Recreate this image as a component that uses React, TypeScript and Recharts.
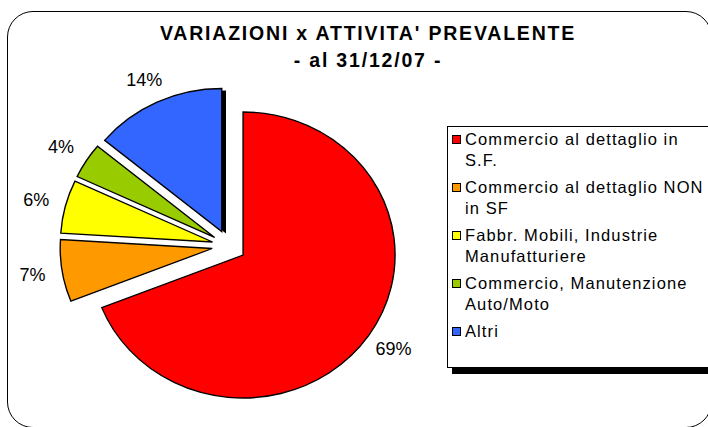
import { PieChart, Pie, Cell, Sector, Legend } from 'recharts'

// categories and shares (percent)
const categories = [
  'Commercio al dettaglio in S.F.',
  'Commercio al dettaglio NON in SF',
  'Fabbr. Mobili, Industrie Manufatturiere',
  'Commercio, Manutenzione Auto/Moto',
  'Altri',
]
const shares = [69, 7, 6, 4, 14]
const colors = ['#FF0000', '#FF9900', '#FFFF00', '#99CC00', '#3366FF']

const data = categories.map((name, i) => ({ name, value: shares[i] }))

const W = 708
const H = 427
const SX = 1.063 // pie is drawn slightly wider than tall
const EXPLODE = 16
const LABEL_RX = 182
const LABEL_RY = 168
const RAD = Math.PI / 180
const FONT = '"Liberation Sans", Arial, Helvetica, sans-serif'

function offsetOf(cx: number, cy: number, midAngle: number) {
  const m = -midAngle * RAD
  return { x: cx + EXPLODE * SX * Math.cos(m), y: cy + EXPLODE * Math.sin(m), m }
}

function ExplodedSlice(props: any) {
  const { cx, cy, midAngle, startAngle, endAngle, outerRadius, fill } = props
  const o = offsetOf(cx, cy, midAngle)
  return (
    <g transform={`translate(${o.x},${o.y}) scale(${SX},1)`}>
      {fill === colors[4] && (
        <Sector cx={4} cy={2} innerRadius={0} outerRadius={outerRadius} startAngle={startAngle} endAngle={endAngle} fill="#000" />
      )}
      <Sector
        cx={0}
        cy={0}
        innerRadius={0}
        outerRadius={outerRadius}
        startAngle={startAngle}
        endAngle={endAngle}
        fill={fill}
        stroke="#000"
        strokeWidth={1.3}
      />
    </g>
  )
}

function renderLabel(props: any) {
  const { cx, cy, midAngle, percent } = props
  const o = offsetOf(cx, cy, midAngle)
  const x = o.x + LABEL_RX * Math.cos(o.m)
  const y = o.y + LABEL_RY * Math.sin(o.m)
  return (
    <text x={x} y={y} textAnchor="middle" dominantBaseline="central" fill="#000" fontSize={18} fontFamily={FONT}>
      {Math.round(percent * 100)}%
    </text>
  )
}

function LegendBox({ payload }: any) {
  // keep the data order, not the alphabetical one
  const items = [...(payload || [])].sort(
    (a: any, b: any) => categories.indexOf(a.value) - categories.indexOf(b.value),
  )
  return (
    <div
      style={{
        width: 265,
        height: 242,
        boxSizing: 'border-box',
        border: '1px solid #000',
        boxShadow: '5px 6px 0 #000',
        background: '#fff',
        paddingTop: 2,
        fontFamily: FONT,
        fontSize: 16.5,
        letterSpacing: 1.1,
        lineHeight: '21px',
        color: '#000',
      }}
    >
      {items.map((entry: any, i: number) => (
        <div key={i} style={{ display: 'flex', alignItems: 'flex-start', marginBottom: 6 }}>
          <span
            style={{
              display: 'inline-block',
              width: 9,
              height: 9,
              marginTop: 6,
              marginLeft: 4,
              marginRight: 4,
              boxSizing: 'border-box',
              border: '1px solid #000',
              background: entry.color,
              flexShrink: 0,
            }}
          />
          <span style={{ width: 244 }}>{entry.value}</span>
        </div>
      ))}
    </div>
  )
}

export default function App() {
  return (
    <div style={{ position: 'relative', width: W, height: H, overflow: 'hidden', background: '#fff' }}>
      <style>{'body{margin:0}'}</style>
      <div
        style={{
          position: 'absolute',
          left: 7,
          top: 11,
          width: 705,
          height: 417,
          boxSizing: 'border-box',
          border: '1.5px solid #000',
          borderRadius: 26,
        }}
      />
      <div
        style={{
          position: 'absolute',
          left: 0,
          top: 20,
          width: 736,
          textAlign: 'center',
          fontFamily: FONT,
          fontWeight: 'bold',
          fontSize: 19.5,
          letterSpacing: 1.8,
          lineHeight: '27px',
          color: '#000',
        }}
      >
        <div>VARIAZIONI x ATTIVITA' PREVALENTE</div>
        <div>- al 31/12/07 -</div>
      </div>
      <div style={{ position: 'absolute', left: 0, top: 0 }}>
        <PieChart width={W} height={H} margin={{ top: 0, right: 0, bottom: 0, left: 0 }}>
          <Pie
            data={data}
            dataKey="value"
            nameKey="name"
            cx={229}
            cy={246}
            outerRadius={143}
            startAngle={90}
            endAngle={-270}
            shape={(p: any) => <ExplodedSlice {...p} />}
            label={renderLabel}
            labelLine={false}
            isAnimationActive={false}
          >
            {data.map((d, i) => (
              <Cell key={d.name} fill={colors[i]} />
            ))}
          </Pie>
          <Legend
            itemSorter={null}
            content={<LegendBox />}
            wrapperStyle={{ left: 447, top: 126, width: 265, height: 242 }}
          />
        </PieChart>
      </div>
    </div>
  )
}
